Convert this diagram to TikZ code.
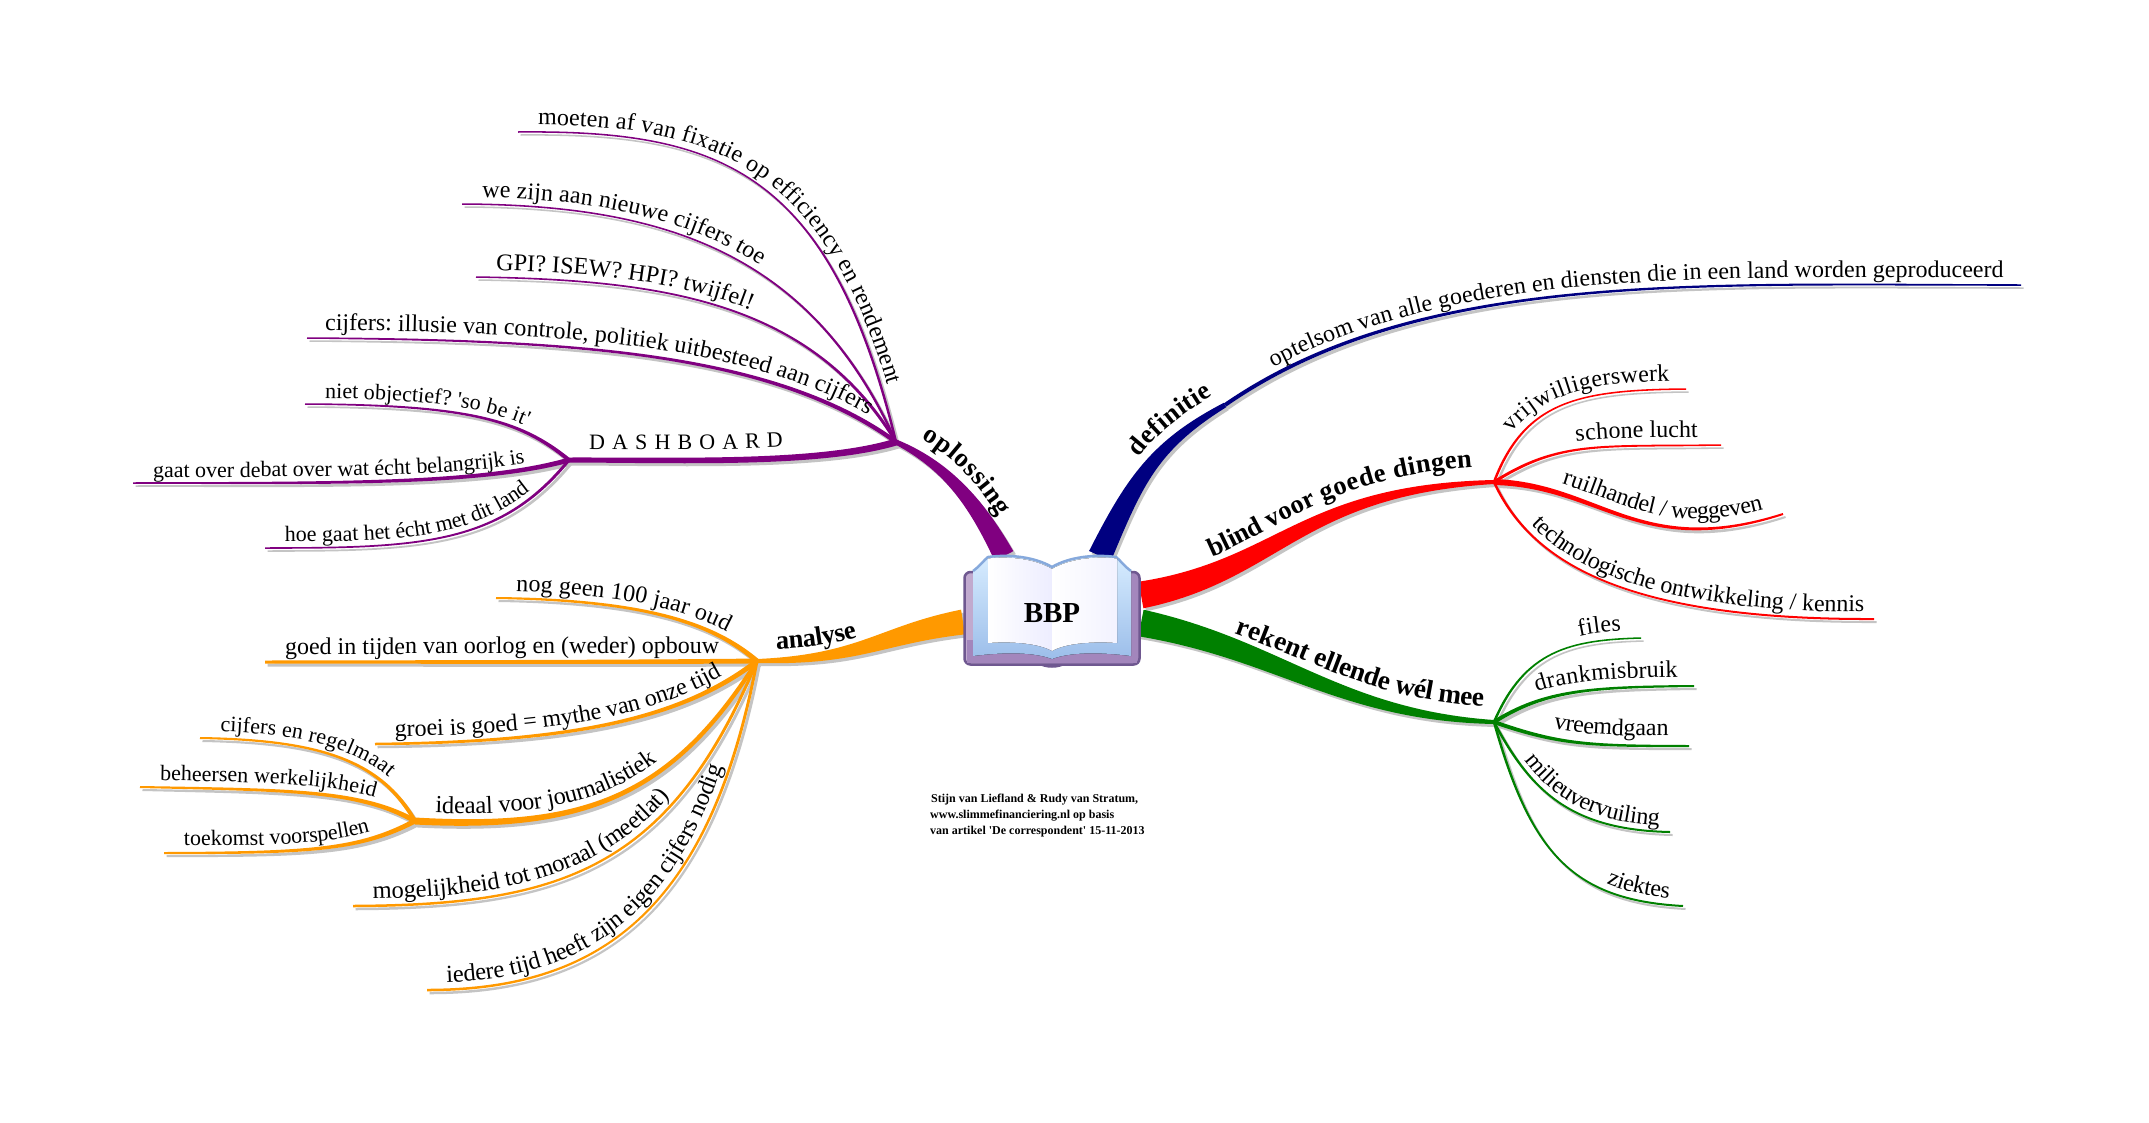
\documentclass[tikz,border=0pt]{standalone}
\usepackage{fontspec}
\setmainfont{Liberation Serif}[Ligatures=TeXOff]
\usetikzlibrary{calc,decorations.text}
\pgfdeclarelayer{bg}
\pgfsetlayers{bg,main}
\definecolor{cpurple}{HTML}{800080}
\definecolor{cnavy}{HTML}{000080}
\definecolor{cred}{HTML}{FF0000}
\definecolor{cgreen}{HTML}{008000}
\definecolor{corange}{HTML}{FF9900}
\definecolor{cshadow}{HTML}{C4C4C4}
\newcommand\fsA{\fontsize{24}{24}\selectfont}
\newcommand\fsAa{\fontsize{24.5}{24}\selectfont}
\newcommand\fsB{\fontsize{22}{22}\selectfont}
\newcommand\fsC{\fontsize{26.5}{27}\selectfont\bfseries}
\newcommand\fsCa{\fontsize{27.3}{27}\selectfont\bfseries}
\newcommand\branch[7]{%
  \def\LPa{#2}\def\LPb{#3}\def\LPc{#4}\def\LPd{#5}%
  \pgfmathsetmacro\hwA{#6/2}\pgfmathsetmacro\hwB{(2*#6+#7)/6}%
  \pgfmathsetmacro\hwC{(#6+2*#7)/6}\pgfmathsetmacro\hwD{#7/2}%
  \coordinate (A0) at ($(#2)!\hwA pt!90:#3$);
  \coordinate (B0) at ($(#2)!\hwA pt!-90:#3$);
  \coordinate (A1) at ($#3!\hwB pt!-90:(#2)$);
  \coordinate (B1) at ($#3!\hwB pt!90:(#2)$);
  \coordinate (A2) at ($#4!\hwC pt!90:(#5)$);
  \coordinate (B2) at ($#4!\hwC pt!-90:(#5)$);
  \coordinate (A3) at ($(#5)!\hwD pt!-90:#4$);
  \coordinate (B3) at ($(#5)!\hwD pt!90:#4$);
  \begin{pgfonlayer}{bg}
    \fill[cshadow,transform canvas={shift={(2.5pt,-3pt)}}] (A0) .. controls (A1) and (A2) .. (A3) -- (B3) .. controls (B2) and (B1) .. (B0) -- cycle;
  \end{pgfonlayer}
  \fill[#1] (A0) .. controls (A1) and (A2) .. (A3) -- (B3) .. controls (B2) and (B1) .. (B0) -- cycle;
}
\newcommand\blab[4]{%
  \path[decorate,decoration={text along path,raise=#1pt,text align={left indent=#2pt},text={|#3|#4}}]
    (\LPa) .. controls \LPb and \LPc .. (\LPd);
}
\begin{document}
\begin{tikzpicture}[x=1pt,y=1pt]
\begin{pgfonlayer}{bg}
\path[use as bounding box,fill=white] (0,0) rectangle (2149,-1122);
\end{pgfonlayer}
% hubs and ends
\coordinate (hP) at (896,-442);
\coordinate (hD) at (569,-460);
\coordinate (hO) at (757,-661);
\coordinate (hI) at (415,-821);
\coordinate (hR) at (1494,-482);
\coordinate (hG) at (1494,-722);
\coordinate (hN) at (1225,-405);
\coordinate (bP) at (1004,-556);
\coordinate (bN) at (1100,-556);
\coordinate (bR) at (1141,-595);
\coordinate (bG) at (1141,-623);
\coordinate (bO) at (963,-622);
\coordinate (nX) at (1350,-340);
\foreach \n/\x/\y in {e1/518/132,e2/462/204,e3/476/277,e4/307/338,e5/305/404,e6/133/483,e7/265/548,
  n1/2021/285,r1/1686/389,r2/1721/445,r3/1783/514,r4/1874/619,
  g1/1641/638,g2/1694/686,g3/1689/746,g4/1670/832,g5/1683/906,
  o1/496/598,o2/265/662,o3/375/744,o4/353/906,o5/427/990,i1/200/738,i2/140/787,i3/164/853}
  {\coordinate (\n) at (\x,-\y);}
% purple
\branch{cpurple}{hP}{(945,-465)}{(975,-500)}{bP}{5}{21}
\blab{15}{20}{\fsC}{oplossing}
\branch{cpurple}{e1}{(720,-130)}{(830,-170)}{hP}{1.5}{2.5}
\blab{7}{20}{\fsA}{moeten af van fixatie op efficiency en rendement}
\branch{cpurple}{e2}{(660,-205)}{(810,-250)}{hP}{1.5}{2.5}
\blab{7}{20}{\fsA}{we zijn aan nieuwe cijfers toe}
\branch{cpurple}{e3}{(660,-280)}{(810,-300)}{hP}{1.5}{3}
\blab{7}{20}{\fsA}{GPI? ISEW? HPI? twijfel!}
\branch{cpurple}{e4}{(560,-340)}{(770,-350)}{hP}{1.5}{4.5}
\blab{8}{18}{\fsA}{cijfers: illusie van controle, politiek uitbesteed aan cijfers}
\branch{cpurple}{hD}{(680,-460)}{(820,-465)}{hP}{5}{7}
\path[decorate,decoration={text along path,raise=11pt,text align={left indent=20pt,right indent=114pt,fit to path},text={|\fsB|DASHBOARD}}] (hD) .. controls (680,-460) and (820,-465) .. (hP);
\branch{cpurple}{e5}{(470,-405)}{(520,-420)}{hD}{1.5}{4}
\blab{6}{20}{\fsB}{niet objectief? 'so be it'}
\branch{cpurple}{e6}{(330,-483)}{(480,-485)}{hD}{1.5}{5}
\blab{6}{20}{\fsB}{gaat over debat over wat écht belangrijk is}
\branch{cpurple}{e7}{(420,-548)}{(500,-545)}{hD}{1.5}{3}
\blab{6}{20}{\fsB}{hoe gaat het écht met dit land}
% navy
\branch{cnavy}{bN}{(1135,-480)}{(1155,-445)}{hN}{24}{5}
\path[decorate,decoration={text along path,raise=14pt,text align={left indent=102pt},text={|\fsC|definitie}}]
  (bN) .. controls (1135,-480) and (1155,-445) .. (hN) .. controls (1260,-378) and (1300,-360) .. (nX);
\branch{cnavy}{hN}{(1420,-270)}{(1700,-285)}{n1}{4}{1.5}
\blab{7}{60}{\fsA}{optelsom van alle goederen en diensten die in een land worden geproduceerd}
% red
\branch{cred}{bR}{(1280,-570)}{(1300,-490)}{hR}{27}{4}
\blab{16}{82}{\fsC}{blind voor goede dingen}
\branch{cred}{hR}{(1525,-400)}{(1580,-390)}{r1}{2.5}{1.5}
\blab{8}{50}{\fsA}{vrijwilligerswerk}
\branch{cred}{hR}{(1560,-440)}{(1600,-447)}{r2}{3}{1.5}
\blab{8}{90}{\fsA}{schone lucht}
\branch{cred}{hR}{(1600,-485)}{(1640,-560)}{r3}{6}{2}
\blab{10}{66}{\fsA}{ruilhandel / weggeven}
\branch{cred}{hR}{(1530,-560)}{(1620,-620)}{r4}{2.5}{2}
\blab{7}{58}{\fsA}{technologische ontwikkeling / kennis}
% green
\branch{cgreen}{bG}{(1280,-650)}{(1340,-715)}{hG}{27}{4}
\blab{15}{92}{\fsCa}{rekent ellende wél mee}
\branch{cgreen}{hG}{(1525,-650)}{(1570,-640)}{g1}{2.5}{1.5}
\blab{8}{122}{\fsA}{files}
\branch{cgreen}{hG}{(1545,-690)}{(1590,-687)}{g2}{4}{2}
\blab{9}{50}{\fsA}{drankmisbruik}
\branch{cgreen}{hG}{(1560,-745)}{(1590,-746)}{g3}{4}{2}
\blab{10}{60}{\fsA}{vreemdgaan}
\branch{cgreen}{hG}{(1530,-790)}{(1570,-830)}{g4}{2.5}{2}
\blab{6}{50}{\fsA}{milieuvervuiling}
\branch{cgreen}{hG}{(1530,-850)}{(1570,-900)}{g5}{2.5}{2}
\blab{7}{208}{\fsA}{ziektes}
% orange
\branch{corange}{hO}{(860,-660)}{(880,-635)}{bO}{4}{25}
\blab{11}{20}{\fsC}{analyse}
\branch{corange}{o1}{(650,-600)}{(715,-625)}{hO}{2}{5}
\blab{7}{20}{\fsA}{nog geen 100 jaar oud}
\branch{corange}{o2}{(480,-662)}{(650,-662)}{hO}{3}{5}
\blab{8}{20}{\fsA}{goed in tijden van oorlog en (weder) opbouw}
\branch{corange}{o3}{(570,-742)}{(680,-720)}{hO}{2.5}{5}
\blab{7}{20}{\fsA}{groei is goed = mythe van onze tijd}
\branch{corange}{hI}{(580,-830)}{(670,-800)}{hO}{7}{4}
\blab{9}{20}{\fsAa}{ideaal voor journalistiek}
\branch{corange}{o4}{(560,-905)}{(670,-870)}{hO}{2.5}{3}
\blab{7}{20}{\fsAa}{mogelijkheid tot moraal (meetlat)}
\branch{corange}{o5}{(600,-990)}{(710,-910)}{hO}{2.5}{3}
\blab{7}{20}{\fsAa}{iedere tijd heeft zijn eigen cijfers nodig}
\branch{corange}{i1}{(320,-740)}{(380,-760)}{hI}{2}{4}
\blab{7}{20}{\fsB}{cijfers en regelmaat}
\branch{corange}{i2}{(290,-790)}{(360,-790)}{hI}{2}{5}
\blab{7}{20}{\fsB}{beheersen werkelijkheid}
\branch{corange}{i3}{(310,-853)}{(360,-850)}{hI}{2}{5}
\blab{7}{20}{\fsB}{toekomst voorspellen}
% book
\definecolor{bkA}{HTML}{C2ABCF}
\definecolor{bkB}{HTML}{A386BC}
\definecolor{bkC}{HTML}{6F5890}
\definecolor{blO}{HTML}{86A9DC}
\definecolor{blT}{HTML}{D8EDFF}
\definecolor{blB}{HTML}{9CBEEA}
\draw[draw=bkC,line width=2.5pt,rounded corners=6pt,left color=bkA,right color=bkB] (964.5,-572) rectangle (1139.5,-664.5);
\fill[bkC] (1038,-664) .. controls (1045,-669) and (1059,-669) .. (1066,-664) -- cycle;
\fill[bkB] (967,-640) rectangle (1137,-662.5);
\fill[top color=blT,bottom color=blB]
  (973,-571) .. controls (980,-566) and (984,-560) .. (988,-557)
  .. controls (1010,-554) and (1035,-557) .. (1052,-567)
  .. controls (1069,-557) and (1094,-554) .. (1116,-557)
  .. controls (1120,-560) and (1124,-566) .. (1131,-571)
  -- (1131,-656) .. controls (1100,-652) and (1070,-652) .. (1052,-659)
  .. controls (1034,-652) and (1004,-652) .. (973,-656) -- cycle;
\draw[draw=blO,line width=2.5pt]
  (973,-571) .. controls (980,-566) and (984,-560) .. (988,-557)
  .. controls (1010,-554) and (1035,-557) .. (1052,-567)
  .. controls (1069,-557) and (1094,-554) .. (1116,-557)
  .. controls (1120,-560) and (1124,-566) .. (1131,-571);
\fill[left color=white,right color=blue!7!white]
  (988,-558.5) .. controls (1010,-556) and (1035,-559) .. (1052,-569) -- (1052,-651)
  .. controls (1040,-644) and (1015,-641) .. (988,-643) -- cycle;
\fill[left color=white,right color=blue!5!white]
  (1117,-558.5) .. controls (1094,-556) and (1069,-559) .. (1052,-569) -- (1052,-651)
  .. controls (1064,-644) and (1089,-641) .. (1117,-643) -- cycle;
\node[font=\fontsize{29}{30}\selectfont\bfseries,anchor=base] (book) at (1052,-622) {BBP};
\node[font=\fontsize{12}{16}\selectfont\bfseries,align=left,anchor=north west,inner sep=0pt] (credit) at (930,-794) {\hspace{1pt}Stijn van Liefland \& Rudy van Stratum,\\www.slimmefinanciering.nl op basis\\van artikel 'De correspondent' 15-11-2013};
\end{tikzpicture}
\end{document}
